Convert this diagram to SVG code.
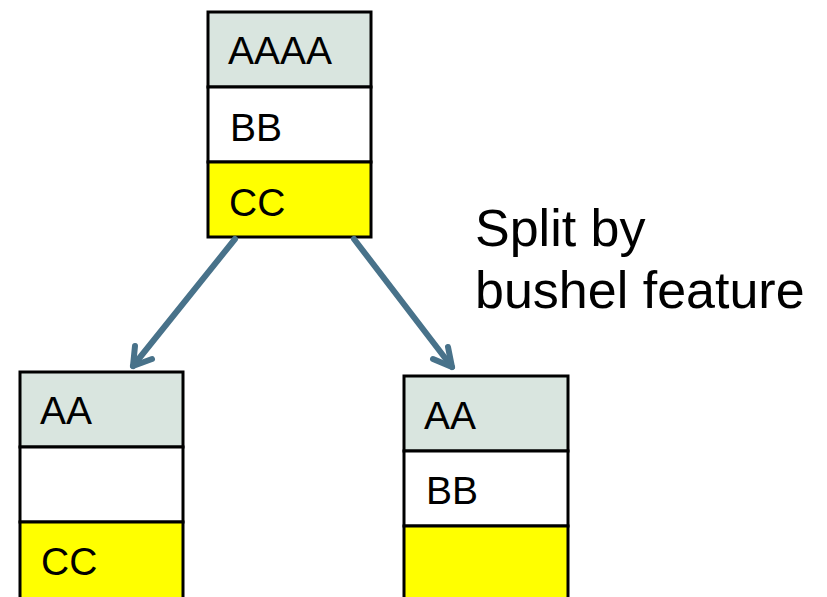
<svg xmlns="http://www.w3.org/2000/svg" width="827" height="597" viewBox="0 0 827 597">
<defs>
<style>
.hdr{fill:#D9E5DF;stroke:#000;stroke-width:3}
.mid{fill:#FFFFFF;stroke:#000;stroke-width:3}
.yel{fill:#FFFF00;stroke:#000;stroke-width:3}
.t{font-family:"Liberation Sans",Arial,sans-serif;font-size:39px;fill:#000}
.lbl{font-family:"Liberation Sans",Arial,sans-serif;font-size:52px;fill:#000}
.conn{stroke:#48728A;stroke-width:6;fill:none;stroke-linecap:round;stroke-linejoin:round}
</style>
</defs>
<rect width="827" height="597" fill="#FFFFFF"/>
<g id="root">
<rect class="hdr" x="208" y="12" width="163" height="75"/>
<rect class="mid" x="208" y="87" width="163" height="75"/>
<rect class="yel" x="208" y="162" width="163" height="75"/>
<text class="t" x="228" y="64">AAAA</text>
<text class="t" x="230" y="141">BB</text>
<text class="t" x="229" y="216">CC</text>
</g>
<g id="left">
<rect class="hdr" x="20" y="372" width="163" height="75"/>
<rect class="mid" x="20" y="447" width="163" height="75"/>
<rect class="yel" x="20" y="522" width="163" height="80"/>
<text class="t" x="40" y="424">AA</text>
<text class="t" x="41" y="575">CC</text>
</g>
<g id="right">
<rect class="hdr" x="404" y="376" width="164" height="75"/>
<rect class="mid" x="404" y="451" width="164" height="75"/>
<rect class="yel" x="404" y="526" width="164" height="80"/>
<text class="t" x="424" y="429">AA</text>
<text class="t" x="426" y="504">BB</text>
</g>
<g id="label">
<text class="lbl" x="475" y="246">Split by</text>
<text class="lbl" x="475" y="308">bushel feature</text>
</g>
<g id="connectors">
<path class="conn" d="M235,239 L133,366"/>
<path class="conn" d="M135,346 L133,366 L152,359"/>
<path class="conn" d="M354,239 L452,367"/>
<path class="conn" d="M448,347 L452,367 L433,359"/>
</g>
</svg>
